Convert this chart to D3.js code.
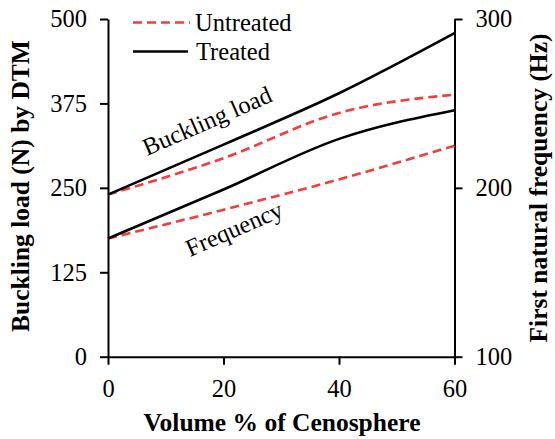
<!DOCTYPE html>
<html>
<head>
<meta charset="utf-8">
<script src="https://cdn.jsdelivr.net/npm/d3@7"></script>
<style>
  body { margin: 0; background: #fff; }
  text { font-family: "Liberation Serif", "Times New Roman", serif; fill: #000; }
</style>
</head>
<body>
<div id="chart"></div>
<script>
// values
let volume = [0, 20, 40, 60];
let bucklingTreated = [240, 314, 390, 479];
let bucklingUntreated = [240, 294, 361, 388];
let freqTreated = [170, 199, 229, 246];
let freqUntreated = [170, 187, 205, 225];
let xTicks = [0, 20, 40, 60];
let leftTicks = [0, 125, 250, 375, 500];
let rightTicks = [100, 200, 300];

let svgWidth = 555;
let svgHeight = 439;
let margin = { top: 19, right: 100.5, bottom: 82.3, left: 108 };
let chartWidth = svgWidth - margin.left - margin.right;
let chartHeight = svgHeight - margin.top - margin.bottom;

let svg = d3.select("#chart")
  .append("svg")
  .attr("width", svgWidth)
  .attr("height", svgHeight);

let chartGroup = svg.append("g")
  .attr("transform", `translate(${margin.left}, ${margin.top})`);

let xScale = d3.scaleLinear().domain([0, 60]).range([0, chartWidth]);
let yLeft = d3.scaleLinear().domain([0, 500]).range([chartHeight, 0]);
let yRight = d3.scaleLinear().domain([100, 300]).range([chartHeight, 0]);

// axes
function styleAxis(g) {
  g.select(".domain").attr("stroke-width", 2);
  g.selectAll(".tick line").attr("stroke-width", 2);
  g.selectAll(".tick text")
    .style("font-family", "'Liberation Serif', serif")
    .style("font-size", "24.5px");
}

chartGroup.append("g")
  .call(d3.axisLeft(yLeft).tickValues(leftTicks).tickSize(8).tickSizeOuter(0).tickPadding(13))
  .call(styleAxis);

chartGroup.append("g")
  .attr("transform", `translate(${chartWidth}, 0)`)
  .call(d3.axisRight(yRight).tickValues(rightTicks).tickSize(8).tickSizeOuter(0).tickPadding(13))
  .call(styleAxis);

chartGroup.append("g")
  .attr("transform", `translate(0, ${chartHeight})`)
  .call(d3.axisBottom(xScale).tickValues(xTicks).tickSize(8).tickSizeOuter(0).tickPadding(15))
  .call(styleAxis);

// lines
let series = [
  { values: bucklingUntreated, y: yLeft, dashed: true },
  { values: freqUntreated, y: yRight, dashed: true },
  { values: bucklingTreated, y: yLeft, dashed: false },
  { values: freqTreated, y: yRight, dashed: false }
];

series.forEach(function(s) {
  let line = d3.line()
    .x((d, i) => xScale(volume[i]))
    .y(d => s.y(d))
    .curve(d3.curveMonotoneX);
  chartGroup.append("path")
    .datum(s.values)
    .attr("fill", "none")
    .attr("stroke", s.dashed ? "#f83a3a" : "#000")
    .attr("stroke-width", 2.6)
    .attr("stroke-dasharray", s.dashed ? "9,5" : null)
    .attr("d", line);
});

// annotations
svg.append("text")
  .attr("transform", "translate(147, 156) rotate(-23.5)")
  .style("font-size", "24.5px")
  .text("Buckling load");

svg.append("text")
  .attr("transform", "translate(190, 257) rotate(-23.5)")
  .style("font-size", "24.5px")
  .text("Frequency");

// legend
let legend = svg.append("g");
legend.append("line")
  .attr("x1", 133).attr("x2", 190).attr("y1", 22.5).attr("y2", 22.5)
  .attr("stroke", "#f83a3a").attr("stroke-width", 2.6).attr("stroke-dasharray", "9,5");
legend.append("text")
  .attr("x", 195).attr("y", 30.5)
  .style("font-size", "24.5px")
  .text("Untreated");
legend.append("line")
  .attr("x1", 133).attr("x2", 188).attr("y1", 51.5).attr("y2", 51.5)
  .attr("stroke", "#000").attr("stroke-width", 2.6);
legend.append("text")
  .attr("x", 196).attr("y", 60)
  .style("font-size", "24.5px")
  .text("Treated");

// axis titles
svg.append("text")
  .attr("x", 282).attr("y", 431)
  .attr("text-anchor", "middle")
  .style("font-size", "25.5px")
  .style("font-weight", "bold")
  .text("Volume % of Cenosphere");

svg.append("text")
  .attr("transform", "translate(29, 186) rotate(-90)")
  .attr("text-anchor", "middle")
  .style("font-size", "25.5px")
  .style("font-weight", "bold")
  .text("Buckling load (N) by DTM");

svg.append("text")
  .attr("transform", "translate(547, 188) rotate(-90)")
  .attr("text-anchor", "middle")
  .style("font-size", "25.5px")
  .style("font-weight", "bold")
  .text("First natural frequency (Hz)");
</script>
</body>
</html>
